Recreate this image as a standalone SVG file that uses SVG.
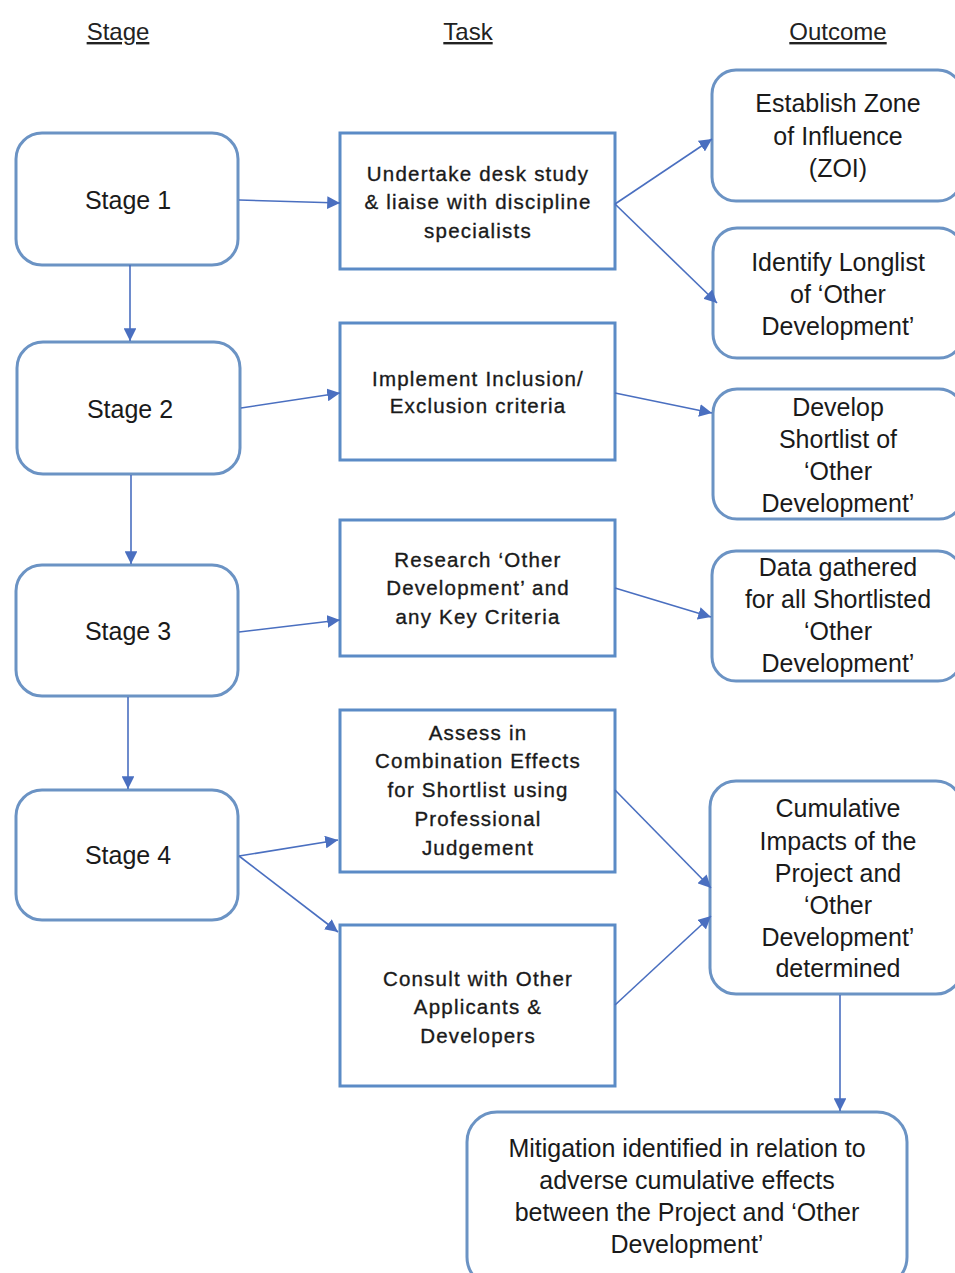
<svg xmlns="http://www.w3.org/2000/svg" width="955" height="1273" viewBox="0 0 955 1273">
<style>
.hdr{font-family:"Liberation Sans",Arial,sans-serif;font-size:24px;fill:#222;text-anchor:middle;text-decoration:underline}
.stage{fill:#fff;stroke:#6b93c4;stroke-width:3}
.task{fill:#fff;stroke:#5b8bc6;stroke-width:3}
.out{fill:#fff;stroke:#6b93c4;stroke-width:3}
.st{font-family:"Liberation Sans",Arial,sans-serif;font-size:25px;fill:#1a1a1a;text-anchor:middle}
.tt{font-family:"Liberation Sans",Arial,sans-serif;font-size:20.5px;fill:#1a1a1a;stroke:#1a1a1a;stroke-width:0.35;text-anchor:middle;letter-spacing:1.2px}
.ot{font-family:"Liberation Sans",Arial,sans-serif;font-size:25px;fill:#1a1a1a;text-anchor:middle}
.conn line{stroke:#4a6fc0;stroke-width:1.6;marker-end:url(#ah)}
</style>
<defs>
<marker id="ah" viewBox="0 0 10 10" refX="10" refY="5" markerWidth="8" markerHeight="8" orient="auto" markerUnits="strokeWidth">
<path d="M0,0 L10,5 L0,10 z" fill="#4a6fc0"/>
</marker>
</defs>
<rect width="955" height="1273" fill="#fff"/>
<text class="hdr" x="118" y="40">Stage</text>
<text class="hdr" x="468" y="40">Task</text>
<text class="hdr" x="838" y="40">Outcome</text>

<g id="stage1"><rect class="stage" x="16" y="133" width="222" height="132" rx="26"/><text class="st" x="128" y="209">Stage 1</text></g>
<g id="stage2"><rect class="stage" x="17" y="342" width="223" height="132" rx="26"/><text class="st" x="130" y="418">Stage 2</text></g>
<g id="stage3"><rect class="stage" x="16" y="565" width="222" height="131" rx="26"/><text class="st" x="128" y="640">Stage 3</text></g>
<g id="stage4"><rect class="stage" x="16" y="790" width="222" height="130" rx="26"/><text class="st" x="128" y="864">Stage 4</text></g>

<g id="task1"><rect class="task" x="340" y="133" width="275" height="136"/>
<text class="tt" x="478" y="181">Undertake desk study</text>
<text class="tt" x="478" y="209">&amp; liaise with discipline</text>
<text class="tt" x="478" y="238">specialists</text></g>
<g id="task2"><rect class="task" x="340" y="323" width="275" height="137"/>
<text class="tt" x="478" y="386">Implement Inclusion/</text>
<text class="tt" x="478" y="413">Exclusion criteria</text></g>
<g id="task3"><rect class="task" x="340" y="520" width="275" height="136"/>
<text class="tt" x="478" y="567">Research ‘Other</text>
<text class="tt" x="478" y="595">Development’ and</text>
<text class="tt" x="478" y="624">any Key Criteria</text></g>
<g id="task4"><rect class="task" x="340" y="710" width="275" height="162"/>
<text class="tt" x="478" y="740">Assess in</text>
<text class="tt" x="478" y="768">Combination Effects</text>
<text class="tt" x="478" y="797">for Shortlist using</text>
<text class="tt" x="478" y="826">Professional</text>
<text class="tt" x="478" y="855">Judgement</text></g>
<g id="task5"><rect class="task" x="340" y="925" width="275" height="161"/>
<text class="tt" x="478" y="986">Consult with Other</text>
<text class="tt" x="478" y="1014">Applicants &amp;</text>
<text class="tt" x="478" y="1043">Developers</text></g>

<g id="out1"><rect class="out" x="712" y="70" width="250" height="131" rx="24"/>
<text class="ot" x="838" y="112">Establish Zone</text>
<text class="ot" x="838" y="145">of Influence</text>
<text class="ot" x="838" y="177">(ZOI)</text></g>
<g id="out2"><rect class="out" x="713" y="228" width="250" height="130" rx="24"/>
<text class="ot" x="838" y="271">Identify Longlist</text>
<text class="ot" x="838" y="303">of ‘Other</text>
<text class="ot" x="838" y="335">Development’</text></g>
<g id="out3"><rect class="out" x="713" y="389" width="250" height="130" rx="24"/>
<text class="ot" x="838" y="416">Develop</text>
<text class="ot" x="838" y="448">Shortlist of</text>
<text class="ot" x="838" y="480">‘Other</text>
<text class="ot" x="838" y="512">Development’</text></g>
<g id="out4"><rect class="out" x="712" y="551" width="250" height="130" rx="24"/>
<text class="ot" x="838" y="576">Data gathered</text>
<text class="ot" x="838" y="608">for all Shortlisted</text>
<text class="ot" x="838" y="640">‘Other</text>
<text class="ot" x="838" y="672">Development’</text></g>
<g id="out5"><rect class="out" x="710" y="781" width="252" height="213" rx="26"/>
<text class="ot" x="838" y="817">Cumulative</text>
<text class="ot" x="838" y="850">Impacts of the</text>
<text class="ot" x="838" y="882">Project and</text>
<text class="ot" x="838" y="914">‘Other</text>
<text class="ot" x="838" y="946">Development’</text>
<text class="ot" x="838" y="977">determined</text></g>
<g id="out6"><rect class="out" x="467" y="1112" width="440" height="175" rx="30"/>
<text class="ot" x="687" y="1157">Mitigation identified in relation to</text>
<text class="ot" x="687" y="1189">adverse cumulative effects</text>
<text class="ot" x="687" y="1221">between the Project and ‘Other</text>
<text class="ot" x="687" y="1253">Development’</text></g>

<g id="connectors" class="conn">
<line x1="239" y1="200" x2="340" y2="203"/>
<line x1="130" y1="265" x2="130" y2="341"/>
<line x1="241" y1="408" x2="340" y2="393"/>
<line x1="131" y1="475" x2="131" y2="564"/>
<line x1="239" y1="632" x2="340" y2="620"/>
<line x1="128" y1="697" x2="128" y2="789"/>
<line x1="239" y1="856" x2="338" y2="840"/>
<line x1="239" y1="856" x2="338" y2="932"/>
<line x1="615" y1="204" x2="712" y2="139"/>
<line x1="615" y1="204" x2="717" y2="303"/>
<line x1="615" y1="393" x2="712" y2="413"/>
<line x1="615" y1="588" x2="711" y2="617"/>
<line x1="615" y1="790" x2="711" y2="888"/>
<line x1="615" y1="1005" x2="711" y2="916"/>
<line x1="840" y1="995" x2="840" y2="1111"/>
</g>
</svg>
